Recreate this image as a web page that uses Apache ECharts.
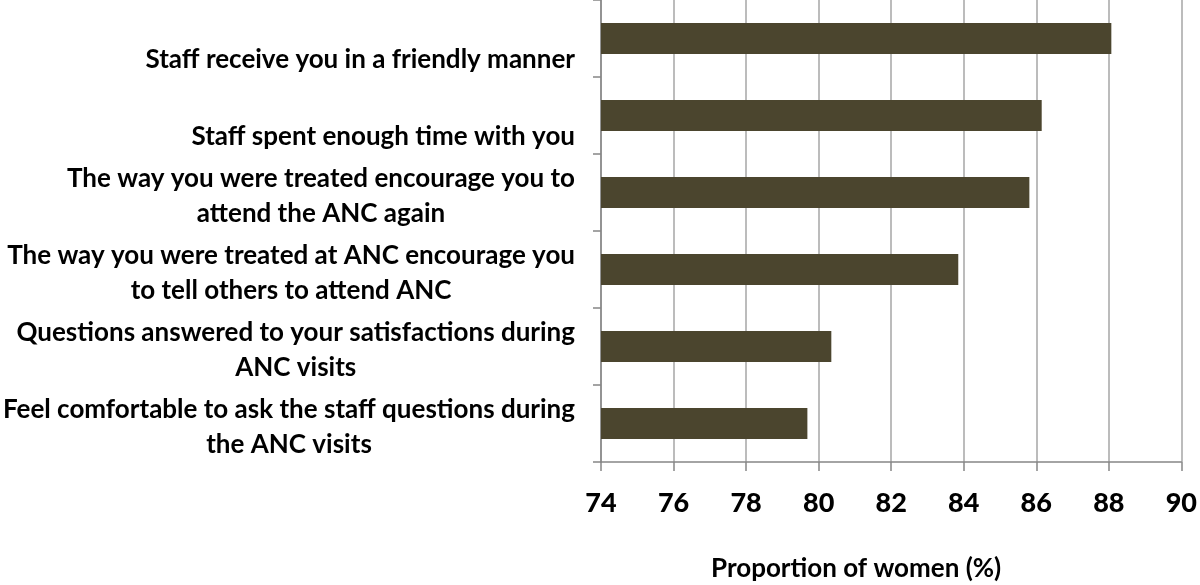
<!DOCTYPE html>
<html><head><meta charset="utf-8">
<script src="https://cdn.jsdelivr.net/npm/echarts@6/dist/echarts.min.js"></script>
<style>html,body{margin:0;padding:0;background:#fff}#c{width:1200px;height:585px}</style>
</head><body><div id="c"></div>
<script>
const categories = [
  "\nStaff receive you in a friendly manner",
  "\nStaff spent enough time with you",
  "The way you were treated encourage you to\nattend the ANC again",
  "The way you were treated at ANC encourage you\nto tell others to attend ANC",
  "Questions answered to your satisfactions during\nANC visits",
  "Feel comfortable to ask the staff questions during\nthe ANC visits"
];
const values = [88.07, 86.15, 85.81, 83.85, 80.35, 79.69];
const xTicks = [74, 90, 2];
const axisName = "Proportion of women (%)";

const chart = echarts.init(document.getElementById('c'));
const FONT = 'Lato';
chart.setOption({
  animation: false,
  grid: { left: 599, right: 13, top: 0, bottom: 123, containLabel: false },
  title: {
    text: axisName, left: 711, top: 556, padding: 0,
    textStyle: { fontFamily: FONT, fontWeight: 'bold', fontSize: 26, color: '#000' }
  },
  xAxis: {
    type: 'value', min: xTicks[0], max: xTicks[1], interval: xTicks[2],
    axisLine: { show: true, lineStyle: { color: '#868686', width: 1.5 } },
    axisTick: { show: true, length: 9, lineStyle: { color: '#868686', width: 1.5 } },
    splitLine: { show: true, lineStyle: { color: '#a6a6a6', width: 1.5 } },
    axisLabel: { margin: 28, fontFamily: FONT, fontWeight: 900, fontSize: 27, color: '#000' }
  },
  yAxis: {
    type: 'category', inverse: true, data: categories,
    axisLine: { show: true, lineStyle: { color: '#868686', width: 1.5 } },
    axisTick: { show: true, length: 8, lineStyle: { color: '#868686', width: 1.5 } },
    splitLine: { show: false },
    axisLabel: {
      margin: 26, fontFamily: FONT, fontWeight: 'bold', fontSize: 26, color: '#000',
      lineHeight: 35, padding: [7, 0, 0, 0],
      formatter: v => v.split('\n').map(s => '{c|' + s + '}').join('\n'),
      rich: { c: { align: 'center', fontFamily: FONT, fontWeight: 'bold', fontSize: 26, lineHeight: 35, color: '#000' } }
    }
  },
  series: [{
    type: 'bar', data: values, barWidth: 31,
    itemStyle: { color: '#4b452e' }
  }]
});
</script></body></html>
